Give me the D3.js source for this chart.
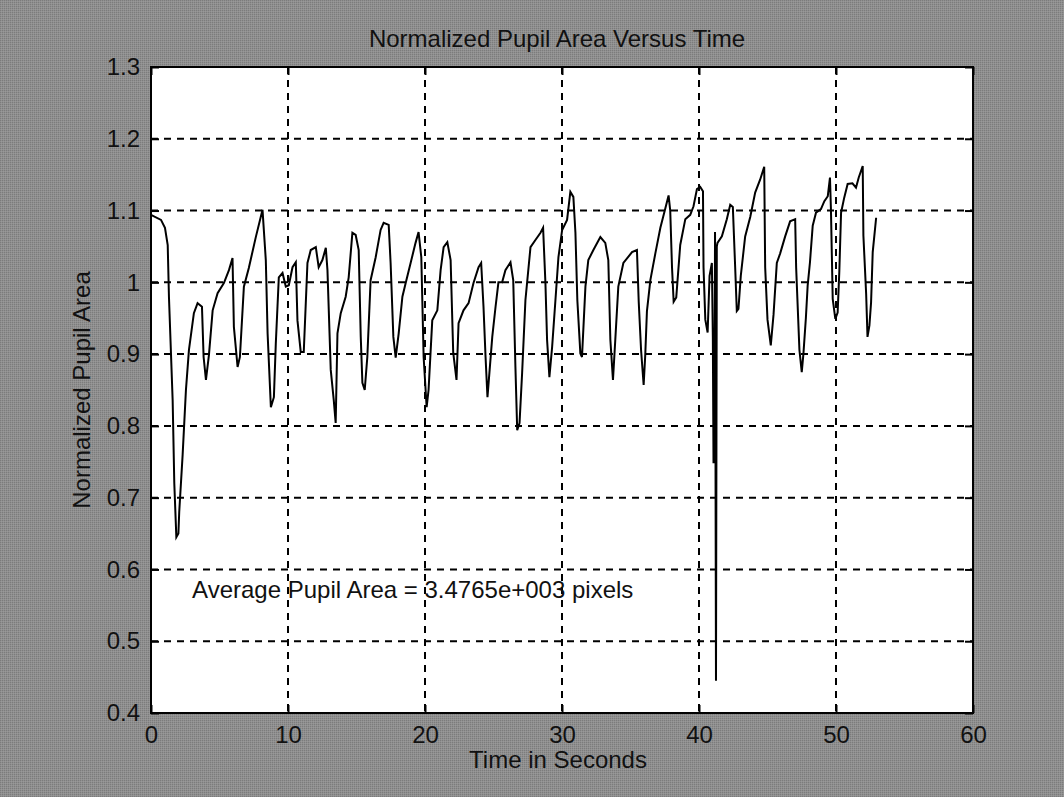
<!DOCTYPE html>
<html>
<head>
<meta charset="utf-8">
<script src="https://cdn.jsdelivr.net/npm/d3@7"></script>
<style>
  body { margin: 0; background: #8c8c8c; }
  text { font-family: "Liberation Sans", Arial, sans-serif; }
</style>
</head>
<body>
<div id="chart"></div>
<script>
// Normalized pupil area vs time (MATLAB style figure)

// Pt. 0 - DATA

const timeSec = [
  0, 0.73, 1.02, 1.22, 1.31, 1.58, 1.7, 1.85, 2.0, 2.06,
  2.31, 2.55, 2.77, 3.13, 3.4, 3.72, 3.84, 4.01, 4.23, 4.5,
  4.86, 5.32, 5.69, 5.95, 6.05, 6.32, 6.49, 6.78, 7.14, 7.65,
  8.14, 8.38, 8.51, 8.75, 8.97, 9.11, 9.33, 9.6, 9.84, 10.06,
  10.33, 10.57, 10.69, 10.93, 11.15, 11.42, 11.66, 12.03, 12.24, 12.51,
  12.76, 12.88, 13.12, 13.34, 13.48, 13.61, 13.85, 14.21, 14.43, 14.7,
  14.94, 15.16, 15.31, 15.43, 15.6, 15.79, 16.03, 16.4, 16.76, 16.98,
  17.35, 17.49, 17.69, 17.86, 18.08, 18.35, 18.59, 18.95, 19.31, 19.53,
  19.73, 19.9, 20.12, 20.26, 20.53, 20.9, 21.14, 21.36, 21.63, 21.87,
  22.06, 22.3, 22.45, 22.81, 23.18, 23.54, 23.91, 24.1, 24.27, 24.42,
  24.56, 24.91, 25.15, 25.36, 25.63, 25.87, 26.24, 26.44, 26.6, 26.73,
  26.9, 27.09, 27.33, 27.7, 28.06, 28.43, 28.62, 28.79, 28.91, 29.08,
  29.28, 29.52, 29.74, 30.01, 30.37, 30.61, 30.83, 30.98, 31.12, 31.34,
  31.46, 31.71, 31.92, 32.29, 32.8, 33.16, 33.38, 33.53, 33.72, 33.89,
  34.11, 34.48, 35.11, 35.47, 35.6, 35.77, 35.96, 36.08, 36.2, 36.45,
  36.81, 37.18, 37.54, 37.78, 37.9, 38.03, 38.15, 38.34, 38.63, 39.0,
  39.36, 39.6, 39.85, 40.09, 40.29, 40.33, 40.46, 40.63, 40.77, 40.94,
  41.01, 41.06, 41.12, 41.17, 41.24, 41.3, 41.35, 41.67, 42.03, 42.28,
  42.47, 42.64, 42.76, 42.88, 43.05, 43.37, 43.74, 44.1, 44.46, 44.76,
  44.83, 45.0, 45.24, 45.44, 45.68, 45.92, 46.29, 46.65, 47.02, 47.09,
  47.33, 47.5, 47.62, 47.8, 47.93, 48.1, 48.3, 48.54, 48.9, 49.15,
  49.4, 49.56, 49.63, 49.76, 49.95, 50.12, 50.24, 50.37, 50.6, 50.85,
  51.2, 51.46, 51.66, 51.95, 52.0, 52.2, 52.3, 52.44, 52.56, 52.68,
  52.93
];

const pupilArea = [
  1.094, 1.087, 1.076, 1.052, 0.98, 0.836, 0.72, 0.645, 0.65, 0.68,
  0.76, 0.85, 0.906, 0.957, 0.971, 0.966, 0.896, 0.864, 0.899, 0.961,
  0.985, 0.999, 1.017, 1.034, 0.938, 0.882, 0.896, 0.994, 1.02, 1.063,
  1.101, 1.031, 0.929, 0.826, 0.84, 0.915, 1.007, 1.013, 0.994, 0.996,
  1.021, 1.028, 0.947, 0.903, 0.903, 1.027, 1.045, 1.049, 1.021, 1.031,
  1.048, 1.017, 0.878, 0.836, 0.804, 0.929, 0.957, 0.98, 1.007, 1.069,
  1.066, 1.045, 0.924, 0.86, 0.85, 0.896, 1.003, 1.035, 1.073, 1.083,
  1.08, 1.027, 0.924, 0.895, 0.929, 0.98, 0.999, 1.027, 1.055, 1.07,
  1.035, 0.896, 0.826, 0.85, 0.947, 0.961, 1.017, 1.049, 1.056, 1.031,
  0.902, 0.864, 0.943, 0.961, 0.971, 0.999, 1.021, 1.027, 0.966, 0.896,
  0.84, 0.924, 0.966, 1.0, 1.0, 1.017, 1.028, 1.003, 0.882, 0.794,
  0.804, 0.874, 0.975, 1.049, 1.059, 1.069, 1.076, 0.999, 0.92, 0.868,
  0.91, 0.975, 1.035, 1.073, 1.087, 1.126, 1.119, 1.069, 0.975, 0.901,
  0.896, 0.994, 1.031, 1.045, 1.063, 1.055, 1.031, 0.92, 0.864, 0.92,
  0.994, 1.027, 1.042, 1.045, 0.973, 0.906, 0.857, 0.9, 0.96, 1.003,
  1.04, 1.076, 1.103, 1.121, 1.1, 1.021, 0.973, 0.979, 1.052, 1.088,
  1.094, 1.106, 1.13, 1.133, 1.127, 1.021, 0.948, 0.93, 1.009, 1.027,
  0.924, 0.748, 0.76, 1.07, 0.445, 1.05, 1.055, 1.064, 1.088, 1.108,
  1.105, 1.021, 0.96, 0.963, 1.009, 1.064, 1.091, 1.125, 1.143, 1.161,
  1.021, 0.948, 0.912, 0.955, 1.027, 1.04, 1.064, 1.085, 1.088, 1.021,
  0.906, 0.875, 0.9, 0.95, 0.995, 1.028, 1.079, 1.097, 1.102, 1.113,
  1.12, 1.146, 1.102, 0.977, 0.949, 0.958, 1.014, 1.097, 1.118, 1.137,
  1.138, 1.132, 1.146, 1.162, 1.065, 0.984, 0.924, 0.94, 0.972, 1.042,
  1.09
];

const xTicks = [0, 10, 20, 30, 40, 50, 60];
const yTicks = [0.4, 0.5, 0.6, 0.7, 0.8, 0.9, 1, 1.1, 1.2, 1.3];

const titleText = "Normalized Pupil Area Versus Time";
const xLabel = "Time in Seconds";
const yLabel = "Normalized Pupil Area";
const noteText = "Average Pupil Area = 3.4765e+003 pixels";

const data = timeSec.map((t, i) => ({ t: t, v: pupilArea[i] }));

// Pt. 1 - SETUP

const width = 1064,
      height = 797,
      margin = ({ top: 67, right: 91, bottom: 84, left: 151 });

let svg = d3.select("#chart")
    .append("svg")
    .attr("width", width)
    .attr("height", height);

// dithered grey background like the scanned figure
let pat = svg.append("defs").append("pattern")
    .attr("id", "dither")
    .attr("width", 2)
    .attr("height", 2)
    .attr("patternUnits", "userSpaceOnUse");
pat.append("rect").attr("width", 2).attr("height", 2).attr("fill", "#8f8f8f");
pat.append("rect").attr("width", 1).attr("height", 1).attr("fill", "#7c7c7c");
pat.append("rect").attr("x", 1).attr("y", 1).attr("width", 1).attr("height", 1).attr("fill", "#999");

svg.append("rect")
    .attr("width", width)
    .attr("height", height)
    .attr("fill", "url(#dither)");

let x = d3.scaleLinear()
    .domain([0, 60])
    .range([margin.left, width - margin.right]);

let y = d3.scaleLinear()
    .domain([0.4, 1.3])
    .range([height - margin.bottom, margin.top]);

// plot area
svg.append("rect")
    .attr("x", margin.left)
    .attr("y", margin.top)
    .attr("width", x(60) - x(0))
    .attr("height", y(0.4) - y(1.3))
    .attr("fill", "white");

// Pt. 2 - GRID

svg.append("g")
    .selectAll("line")
    .data(xTicks.slice(1, -1))
    .join("line")
    .attr("x1", d => x(d))
    .attr("x2", d => x(d))
    .attr("y1", y(1.3))
    .attr("y2", y(0.4))
    .attr("stroke", "black")
    .attr("stroke-width", 2)
    .attr("stroke-dasharray", "7,6");

svg.append("g")
    .selectAll("line")
    .data(yTicks.slice(1, -1))
    .join("line")
    .attr("x1", x(0))
    .attr("x2", x(60))
    .attr("y1", d => y(d))
    .attr("y2", d => y(d))
    .attr("stroke", "black")
    .attr("stroke-width", 2)
    .attr("stroke-dasharray", "7,6");

// Pt. 3 - AXES

function styleAxis(g) {
    g.select(".domain").remove();
    g.selectAll(".tick line").attr("stroke", "black").attr("stroke-width", 2);
    g.selectAll(".tick text")
        .attr("fill", "#111")
        .style("font-size", "24px")
        .style("font-family", "'Liberation Sans', Arial, sans-serif");
}

svg.append("g")
    .attr("transform", `translate(0, ${y(0.4)})`)
    .call(d3.axisBottom(x).tickValues(xTicks).tickFormat(d3.format("d"))
        .tickSize(-8).tickPadding(13))
    .call(styleAxis);

svg.append("g")
    .attr("transform", `translate(0, ${y(1.3)})`)
    .call(d3.axisTop(x).tickValues(xTicks).tickFormat("").tickSize(-8))
    .call(styleAxis);

svg.append("g")
    .attr("transform", `translate(${x(0)}, 0)`)
    .call(d3.axisLeft(y).tickValues(yTicks).tickFormat(d => d === 1 ? "1" : d3.format(".1f")(d))
        .tickSize(-8).tickPadding(11))
    .call(styleAxis);

svg.append("g")
    .attr("transform", `translate(${x(60)}, 0)`)
    .call(d3.axisRight(y).tickValues(yTicks).tickFormat("").tickSize(-8))
    .call(styleAxis);

// Pt. 4 - LINE

let line = d3.line()
    .x(d => x(d.t))
    .y(d => y(d.v));

svg.append("path")
    .datum(data)
    .attr("fill", "none")
    .attr("stroke", "black")
    .attr("stroke-width", 2)
    .attr("stroke-linejoin", "miter")
    .attr("d", line);

// frame
svg.append("rect")
    .attr("x", margin.left)
    .attr("y", margin.top)
    .attr("width", x(60) - x(0))
    .attr("height", y(0.4) - y(1.3))
    .attr("fill", "none")
    .attr("stroke", "black")
    .attr("stroke-width", 2);

// Pt. 5 - TEXT

svg.append("text")
    .text(titleText)
    .attr("x", 557)
    .attr("y", 47)
    .attr("text-anchor", "middle")
    .style("font-size", "24px")
    .style("fill", "#111");

svg.append("text")
    .text(xLabel)
    .attr("x", 558)
    .attr("y", 768)
    .attr("text-anchor", "middle")
    .style("font-size", "24px")
    .style("fill", "#111");

svg.append("text")
    .text(yLabel)
    .attr("transform", `translate(90, ${(y(0.4) + y(1.3)) / 2}) rotate(-90)`)
    .attr("text-anchor", "middle")
    .style("font-size", "24px")
    .style("fill", "#111");

svg.append("text")
    .text(noteText)
    .attr("x", x(3))
    .attr("y", 598)
    .style("font-size", "24px")
    .style("fill", "#111");
</script>
</body>
</html>
